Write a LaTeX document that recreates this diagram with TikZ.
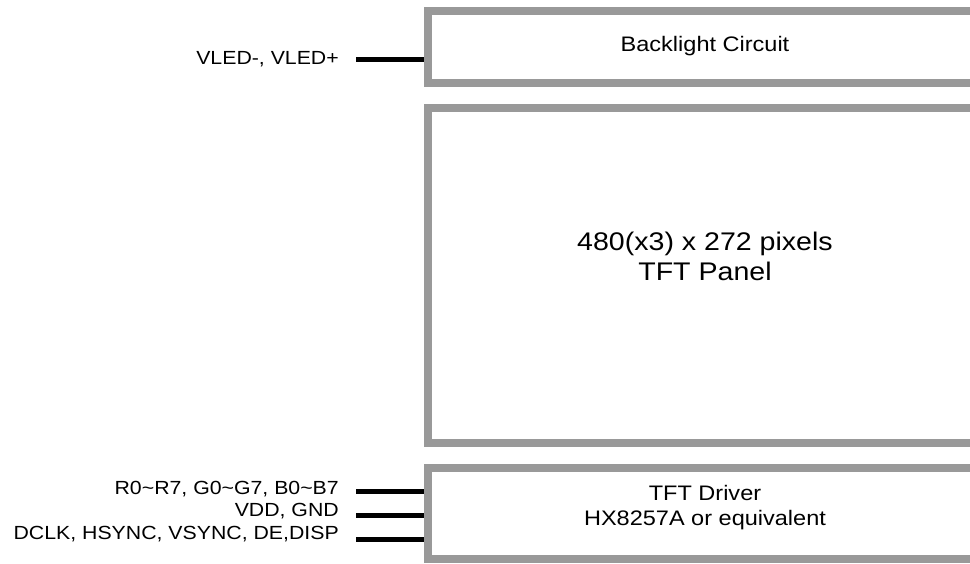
\documentclass[tikz,border=0pt]{standalone}
\usepackage{fontspec}
\setmainfont{Liberation Sans}[FakeStretch=1.12]
\usetikzlibrary{positioning}
\definecolor{framegray}{RGB}{153,153,153}

\begin{document}
\begin{tikzpicture}[
	x=1pt, y=-1pt,
	frame/.style={rectangle, draw=framegray, line width=8pt, inner sep=0pt, minimum width=554pt},
	boxtext/.style={anchor=base, inner sep=0pt, font=\fontsize{21pt}{25pt}\selectfont},
	paneltext/.style={anchor=base, inner sep=0pt, font=\fontsize{25.5pt}{30pt}\selectfont},
	sigtext/.style={anchor=base east, inner sep=0pt, font=\fontsize{19pt}{22pt}\selectfont},
	padline/.style={line width=5pt}
]
\useasboundingbox (0,0) rectangle (970,563);

% blocks, right side runs off the page
\node[frame, minimum height=72pt] (backlight) at (705,47) {};
\node[frame, minimum height=335.5pt] (panel) at (705,275.25) {};
\node[frame, minimum height=91pt] (driver) at (705,513.5) {};

\node[boxtext] (backlighttext) at (705,51) {Backlight Circuit};
\node[paneltext] (paneltop) at (705,250) {480(x3) x 272 pixels};
\node[paneltext] (panelbot) at (705,280) {TFT Panel};
\node[boxtext] (drivertop) at (705,500) {TFT Driver};
\node[boxtext] (driverbot) at (705,525) {HX8257A or equivalent};

% signal names
\node[sigtext] (vled) at (339,64) {VLED-, VLED+};
\node[sigtext] (rgb) at (339,494) {R0\textasciitilde R7, G0\textasciitilde G7, B0\textasciitilde B7};
\node[sigtext] (power) at (339,516) {VDD, GND};
\node[sigtext] (sync) at (339,539) {DCLK, HSYNC, VSYNC, DE,DISP};

\coordinate (vledpin) at (356,59.5);
\coordinate (rgbpin) at (356,491.5);
\coordinate (powerpin) at (356,515);
\coordinate (syncpin) at (356,539);

\draw[padline] (vledpin) -- (vledpin -| backlight.west);
\draw[padline] (rgbpin) -- (rgbpin -| driver.west);
\draw[padline] (powerpin) -- (powerpin -| driver.west);
\draw[padline] (syncpin) -- (syncpin -| driver.west);

\end{tikzpicture}
\end{document}
